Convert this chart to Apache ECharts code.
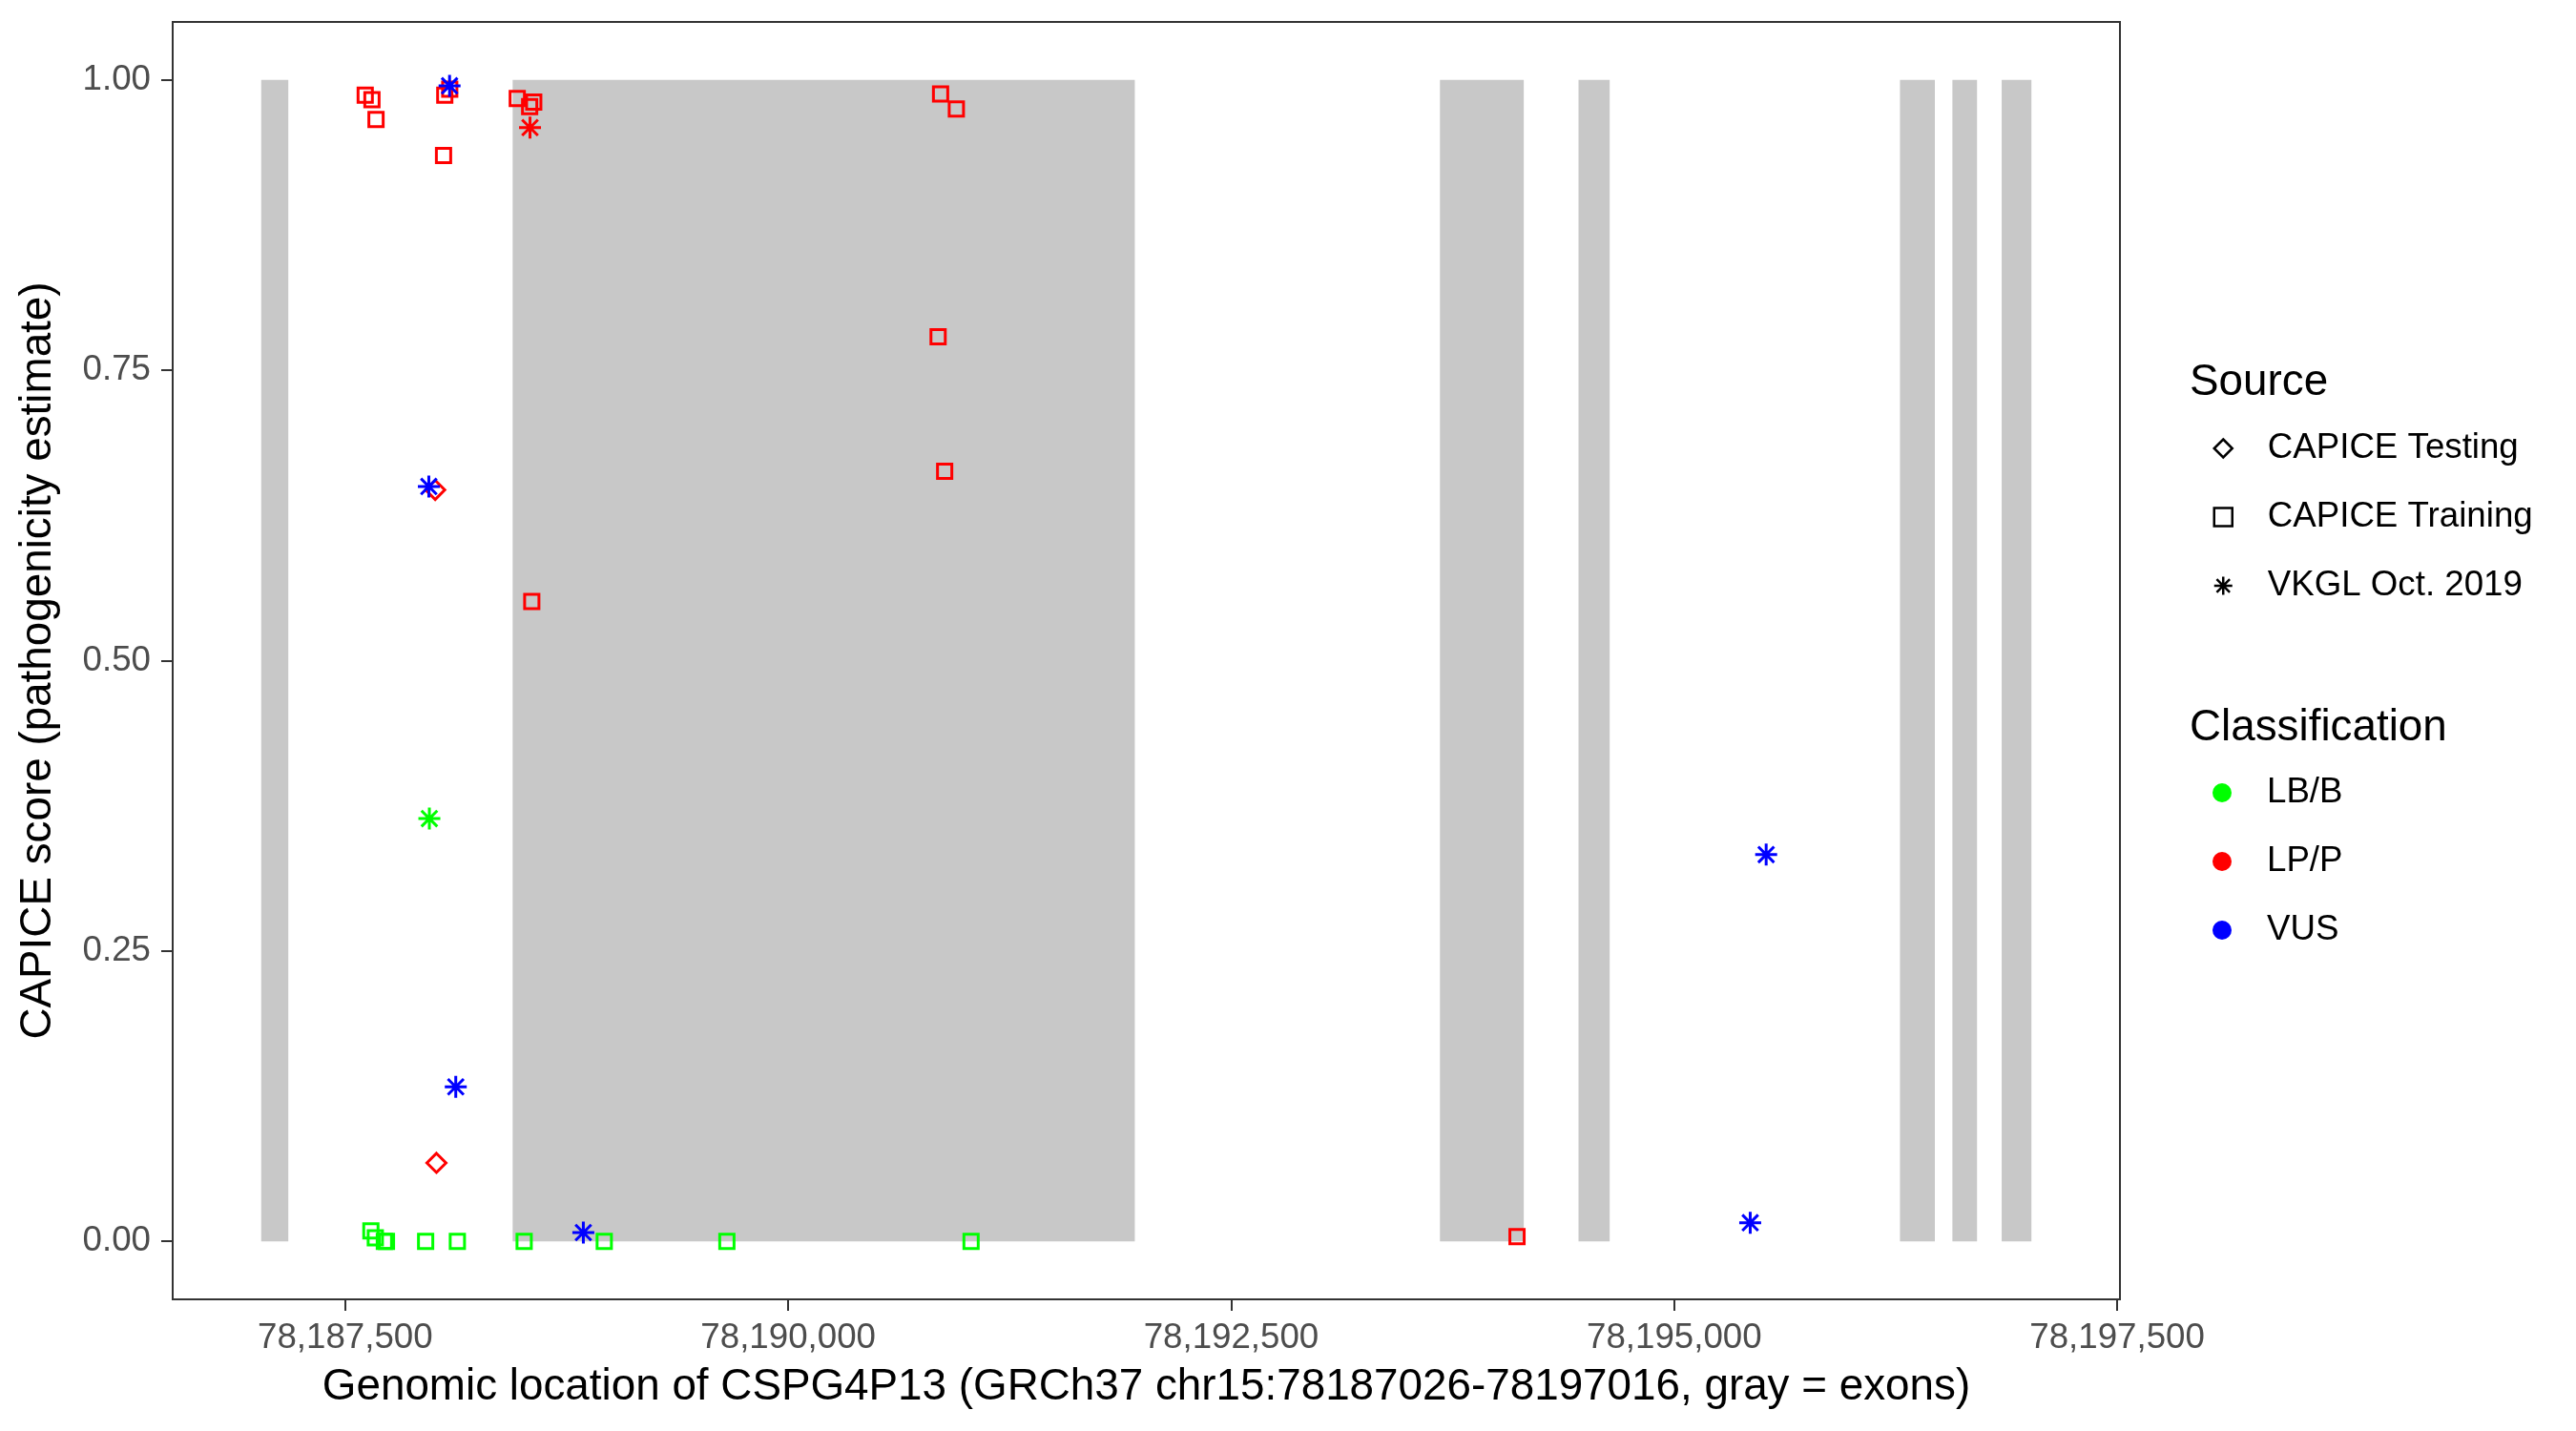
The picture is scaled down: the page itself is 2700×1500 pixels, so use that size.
<!DOCTYPE html>
<html>
<head>
<meta charset="utf-8">
<script src="https://cdn.jsdelivr.net/npm/echarts@6/dist/echarts.min.js"></script>
<style>
html,body{margin:0;padding:0;background:#ffffff;}
#chart{width:2700px;height:1500px;}
</style>
</head>
<body>
<div id="chart"></div>
<script>
// ---- data ----
const exonStart = [78187026, 78188445, 78193678, 78194460, 78196274, 78196570, 78196848];
const exonEnd   = [78187179, 78191956, 78194151, 78194636, 78196471, 78196709, 78197016];

const xTicks = [78187500, 78190000, 78192500, 78195000, 78197500];
const yTicks = [0, 0.25, 0.5, 0.75, 1];

const sourceNames = ['CAPICE Testing', 'CAPICE Training', 'VKGL Oct. 2019'];
const classNames  = ['LB/B', 'LP/P', 'VUS'];

// CAPICE Training (open squares)
const trainingPos   = [78187613, 78187651, 78187674, 78188062, 78188090, 78188055, 78188471, 78188564, 78188541, 78188553,
                       78190860, 78190949, 78190846, 78190883, 78194113,
                       78187645, 78187670, 78187721, 78187733, 78187954, 78188133, 78188510, 78188962, 78189654, 78191032];
const trainingScore = [0.987, 0.983, 0.966, 0.987, 0.992, 0.935, 0.984, 0.981, 0.977, 0.551,
                       0.988, 0.975, 0.779, 0.663, 0.004,
                       0.009, 0.003, 0.0, 0.0, 0.0, 0.0, 0.0, 0.0, 0.0, 0.0];
const trainingClass = ['LP/P','LP/P','LP/P','LP/P','LP/P','LP/P','LP/P','LP/P','LP/P','LP/P',
                       'LP/P','LP/P','LP/P','LP/P','LP/P',
                       'LB/B','LB/B','LB/B','LB/B','LB/B','LB/B','LB/B','LB/B','LB/B','LB/B'];

// CAPICE Testing (open diamonds)
const testingPos   = [78188008, 78188015];
const testingScore = [0.647, 0.0675];
const testingClass = ['LP/P', 'LP/P'];

// VKGL Oct. 2019 (asterisks)
const vkglPos   = [78188089, 78188543, 78187972, 78187975, 78188124, 78188844, 78195519, 78195429];
const vkglScore = [0.995, 0.959, 0.650, 0.364, 0.133, 0.0075, 0.333, 0.016];
const vkglClass = ['VUS', 'LP/P', 'VUS', 'LB/B', 'VUS', 'VUS', 'VUS', 'VUS'];

// ---- styling ----
const classColor = {'LB/B': '#00FF00', 'LP/P': '#FF0000', 'VUS': '#0000FF'};
const FONT = "'Liberation Sans', Arial, Helvetica, sans-serif";
const ASTERISK = 'path://M0,-10L0,10M-10,0L10,0M-7.2,-7.2L7.2,7.2M-7.2,7.2L7.2,-7.2';
const xMin = 78187026 - 499.5, xMax = 78197016 + 499.5;

function pts(pos, score, cls, lw) {
  return pos.map((p, i) => ({
    value: [p, score[i]],
    itemStyle: {color: 'rgba(0,0,0,0)', borderColor: classColor[cls[i]], borderWidth: lw, opacity: 1}
  }));
}
const fmtX = v => Math.round(v).toLocaleString('en-US');
const openBlack = {color: 'rgba(0,0,0,0)', borderColor: '#000000', borderWidth: 2.5, opacity: 1};

const chart = echarts.init(document.getElementById('chart'), null, {renderer: 'canvas'});
chart.setOption({
  animation: false,
  backgroundColor: '#ffffff',
  textStyle: {fontFamily: FONT},
  grid: {left: 181, right: 478, top: 23, bottom: 138, show: true,
         borderColor: '#333333', borderWidth: 2, backgroundColor: 'rgba(0,0,0,0)'},
  xAxis: {
    type: 'value', min: xMin, max: xMax,
    splitLine: {show: false},
    axisLine: {show: true, onZero: false, lineStyle: {color: '#333333', width: 2}},
    axisTick: {show: true, customValues: xTicks, length: 12, lineStyle: {color: '#333333', width: 2}},
    axisLabel: {customValues: xTicks, formatter: fmtX, fontSize: 36.7, color: '#4D4D4D', margin: 22, fontFamily: FONT},
    name: 'Genomic location of CSPG4P13 (GRCh37 chr15:78187026-78197016, gray = exons)',
    nameLocation: 'middle', nameGap: 92,
    nameTextStyle: {fontSize: 45.8, color: '#000000', verticalAlign: 'middle', fontFamily: FONT}
  },
  yAxis: {
    type: 'value', min: -0.05, max: 1.05,
    splitLine: {show: false},
    axisLine: {show: true, onZero: false, lineStyle: {color: '#333333', width: 2}},
    axisTick: {show: true, customValues: yTicks, length: 12, lineStyle: {color: '#333333', width: 2}},
    axisLabel: {customValues: yTicks, formatter: v => v.toFixed(2), fontSize: 36.7, color: '#4D4D4D', margin: 23, fontFamily: FONT},
    name: 'CAPICE score (pathogenicity estimate)',
    nameLocation: 'middle', nameGap: 141,
    nameTextStyle: {fontSize: 45.8, color: '#000000', verticalAlign: 'middle', fontFamily: FONT}
  },
  legend: [
    {
      orient: 'vertical', left: 2319.5, top: 450, padding: 0,
      itemWidth: 19, itemHeight: 19, itemGap: 32, selectedMode: false,
      textStyle: {fontSize: 36.7, color: '#000000', lineHeight: 40, padding: [0, 0, 0, 32], fontFamily: FONT},
      data: [
        {name: sourceNames[0], icon: 'diamond', itemStyle: openBlack},
        {name: sourceNames[1], icon: 'rect', itemStyle: openBlack},
        {name: sourceNames[2], icon: ASTERISK, itemStyle: openBlack}
      ]
    },
    {
      orient: 'vertical', left: 2319, top: 811, padding: 0,
      itemWidth: 20, itemHeight: 20, itemGap: 32, selectedMode: false,
      textStyle: {fontSize: 36.7, color: '#000000', lineHeight: 40, padding: [0, 0, 0, 32], fontFamily: FONT},
      data: classNames.map(c => ({name: c, icon: 'circle', itemStyle: {color: classColor[c], borderWidth: 0, opacity: 1}}))
    }
  ],
  graphic: [
    {type: 'text', left: 2295, top: 397 - 19, style: {text: 'Source', fontSize: 45.8, fill: '#000000', fontFamily: FONT}},
    {type: 'text', left: 2295, top: 759 - 19, style: {text: 'Classification', fontSize: 45.8, fill: '#000000', fontFamily: FONT}}
  ],
  series: [
    {
      type: 'custom', name: 'exons', silent: true, z: 1,
      data: exonStart.map((s, i) => [s, exonEnd[i]]),
      encode: {x: [0, 1]},
      renderItem: (params, api) => {
        const p0 = api.coord([api.value(0), 1]);
        const p1 = api.coord([api.value(1), 0]);
        return {type: 'rect', shape: {x: p0[0], y: p0[1], width: p1[0] - p0[0], height: p1[1] - p0[1]},
                style: {fill: '#C8C8C8'}};
      }
    },
    {
      type: 'scatter', name: sourceNames[1], z: 3, symbol: 'rect', symbolSize: 15,
      itemStyle: {opacity: 1}, emphasis: {disabled: true},
      data: pts(trainingPos, trainingScore, trainingClass, 3)
    },
    {
      type: 'scatter', name: sourceNames[0], z: 3, symbol: 'diamond', symbolSize: 20,
      itemStyle: {opacity: 1}, emphasis: {disabled: true},
      data: pts(testingPos, testingScore, testingClass, 3)
    },
    {
      type: 'scatter', name: sourceNames[2], z: 3, symbol: ASTERISK, symbolSize: 23,
      itemStyle: {opacity: 1}, emphasis: {disabled: true},
      data: pts(vkglPos, vkglScore, vkglClass, 3)
    },
    ...classNames.map(c => ({type: 'scatter', name: c, data: [], itemStyle: {color: classColor[c], opacity: 1}}))
  ]
});
</script>
</body>
</html>
